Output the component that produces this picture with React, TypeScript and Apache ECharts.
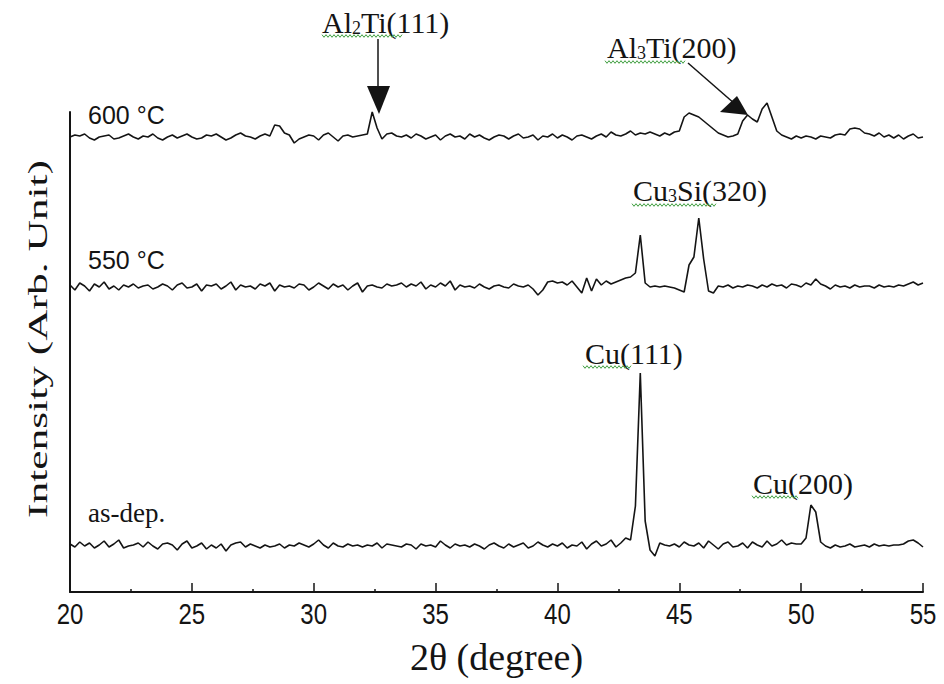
import React, { useEffect, useRef } from "react";
import * as echarts from "echarts";

// 2θ scan grid (degrees)
const twoTheta = [
  20.0, 20.2, 20.4, 20.6, 20.8, 21.0, 21.2, 21.4, 21.6, 21.8,
  22.0, 22.2, 22.4, 22.6, 22.8, 23.0, 23.2, 23.4, 23.6, 23.8,
  24.0, 24.2, 24.4, 24.6, 24.8, 25.0, 25.2, 25.4, 25.6, 25.8,
  26.0, 26.2, 26.4, 26.6, 26.8, 27.0, 27.2, 27.4, 27.6, 27.8,
  28.0, 28.2, 28.4, 28.6, 28.8, 29.0, 29.2, 29.4, 29.6, 29.8,
  30.0, 30.2, 30.4, 30.6, 30.8, 31.0, 31.2, 31.4, 31.6, 31.8,
  32.0, 32.2, 32.4, 32.6, 32.8, 33.0, 33.2, 33.4, 33.6, 33.8,
  34.0, 34.2, 34.4, 34.6, 34.8, 35.0, 35.2, 35.4, 35.6, 35.8,
  36.0, 36.2, 36.4, 36.6, 36.8, 37.0, 37.2, 37.4, 37.6, 37.8,
  38.0, 38.2, 38.4, 38.6, 38.8, 39.0, 39.2, 39.4, 39.6, 39.8,
  40.0, 40.2, 40.4, 40.6, 40.8, 41.0, 41.2, 41.4, 41.6, 41.8,
  42.0, 42.2, 42.4, 42.6, 42.8, 43.0, 43.2, 43.4, 43.6, 43.8,
  44.0, 44.2, 44.4, 44.6, 44.8, 45.0, 45.2, 45.4, 45.6, 45.8,
  46.0, 46.2, 46.4, 46.6, 46.8, 47.0, 47.2, 47.4, 47.6, 47.8,
  48.0, 48.2, 48.4, 48.6, 48.8, 49.0, 49.2, 49.4, 49.6, 49.8,
  50.0, 50.2, 50.4, 50.6, 50.8, 51.0, 51.2, 51.4, 51.6, 51.8,
  52.0, 52.2, 52.4, 52.6, 52.8, 53.0, 53.2, 53.4, 53.6, 53.8,
  54.0, 54.2, 54.4, 54.6, 54.8, 55.0,
];

// Intensity (arb. unit) relative to each trace's own baseline
const int600 = [
  0, 2, 1, 3, -1, -3, 0, 1, 2, -2,
  -1, 1, 3, 0, -2, 1, 0, 3, -1, -3,
  0, 2, -1, 1, 3, 0, -2, -1, 2, 1,
  3, 0, -3, -1, 2, 4, 1, 0, -2, 1,
  3, 1, 12, 11, 4, 2, -6, -2, 0, 2,
  1, -3, 2, 4, 0, -4, 1, 2, 0, 1,
  2, 3, 25, 9, -2, 3, 4, 1, 0, 2,
  -1, 3, 1, -2, 0, 2, -3, 1, 3, 0,
  1, -2, 3, 0, 2, -1, -3, 0, 2, 1,
  -2, 1, 3, -1, 0, 2, -3, 1, 0, 3,
  -1, 2, 0, -3, 1, 2, 0, -2, 1, 3,
  0, 5, 2, 1, 3, 6, 2, 4, 3, 5,
  3, 1, 4, 2, 5, 6, 20, 24, 22, 20,
  16, 12, 8, 4, 2, 0, 1, 3, 16, 22,
  18, 15, 28, 34, 20, 6, 2, 0, -2, 1,
  -1, 1, 0, -2, 1, 0, -1, 2, 3, 2,
  8, 9, 8, 4, 3, 1, 4, 0, 2, -1,
  2, -2, 1, 3, -1, 0,
];

const int550 = [
  2, -3, 4, 1, -4, 3, 0, 5, -2, 1,
  -3, 2, 0, 3, -1, 1, 2, -2, 0, 3,
  1, -3, 2, 4, -1, 0, 3, -4, 2, 1,
  3, -2, 1, 5, -3, 2, 0, 1, -2, 3,
  1, 4, -4, 2, 0, 1, -1, 3, 2, -3,
  0, 4, 1, -2, 3, 0, 2, -3, 1, 4,
  -5, 1, 2, 0, -1, 3, 1, 2, 4, 0,
  3, 1, 5, -2, 2, 0, 4, 1, 6, -3,
  2, 0, 1, -1, 3, 0, -2, 1, 2, 0,
  -1, 3, 1, 0, 2, -2, -8, -3, 5, 6,
  4, 5, 2, 6, 0, -6, 9, -4, 8, 2,
  6, 3, 5, 7, 9, 10, 14, 52, 4, 0,
  1, 0, 1, 0, -1, -3, -5, 22, 30, 69,
  28, -4, -6, 1, 0, 2, -1, 1, 0, 2,
  1, -1, 2, 0, 3, 1, 2, -1, 3, 2,
  0, 4, 2, 8, 3, 1, -2, 2, 0, 1,
  -1, 2, 0, 1, 1, -1, 2, 0, 1, 0,
  2, 1, 3, 5, 2, 4,
];

const intAsDep = [
  2, -1, 4, 0, 3, -2, 1, 5, -1, 2,
  6, -2, 0, 1, 3, -1, 4, 0, -3, 2,
  3, 1, -4, 2, 5, -2, 0, 3, -3, 1,
  -2, 2, -5, 1, 3, 4, -1, 2, 0, -2,
  1, -1, 0, 2, -2, 1, 0, 3, 1, -1,
  2, 6, 1, -2, 3, 0, -1, 2, 0, 1,
  -1, 1, 0, 3, -2, 2, 1, 0, -1, 2,
  1, -3, 2, 0, 1, -1, 5, 1, -2, 2,
  0, 1, -1, 2, 0, -3, 1, 3, 0, -2,
  2, -1, 1, 3, -2, 0, 4, 1, -1, 2,
  0, 3, -2, 1, 0, 4, -3, 2, 5, 0,
  2, 6, -1, 3, 8, 6, 40, 173, 25, -4,
  -10, 3, 1, 0, 2, -1, 4, 1, 0, 3,
  -2, 5, 1, -3, 2, 4, -1, 0, 3, -2,
  4, 1, -1, 5, 0, 2, 6, 1, 3, 2,
  2, 8, 41, 34, 4, 0, -2, 1, -1, 0,
  2, -1, 0, 1, -1, 2, 0, 1, 0, 1,
  1, 2, 5, 6, 3, -1,
];

// vertical stacking offsets of the three traces
const traceNames = ["600 °C", "550 °C", "as-dep."];
const traceOffsets = [455, 305, 46];
const traceValues = [int600, int550, intAsDep];

const xMin = 20;
const xMax = 55;
const xInterval = 5;
const xTickValues = [20, 25, 30, 35, 40, 45, 50, 55];
const xTickLabels = ["20", "25", "30", "35", "40", "45", "50", "55"];

const INK = "#141414";
const SERIF = "'Liberation Serif', 'Times New Roman', serif";
const SANS = "'Liberation Sans', Arial, sans-serif";
const GREEN = "#3f9f3f";

function squiggle(x0: number, x1: number, y: number) {
  const pts: number[][] = [];
  let up = true;
  for (let x = x0; x <= x1; x += 2) {
    pts.push([x, up ? y - 1.3 : y + 1.3]);
    up = !up;
  }
  return {
    type: "polyline",
    shape: { points: pts },
    style: { stroke: GREEN, lineWidth: 1, fill: null },
    z: 10,
  };
}

function label(text: string, x: number, top: number, size: number, family: string) {
  return {
    type: "text",
    x,
    y: top,
    z: 10,
    style: {
      text,
      fontFamily: family,
      fontSize: size,
      lineHeight: size,
      fill: INK,
      align: "left",
      verticalAlign: "top",
      textAlign: "left",
      textVerticalAlign: "top",
    },
  };
}

function subLabel(pre: string, sub: string, post: string, x: number, top: number) {
  return {
    type: "text",
    x,
    y: top,
    z: 10,
    style: {
      text: `{m|${pre}}{s|${sub}}{m|${post}}`,
      fontFamily: SERIF,
      fontSize: 30,
      fill: INK,
      align: "left",
      verticalAlign: "top",
      textAlign: "left",
      textVerticalAlign: "top",
      rich: {
        m: { fontFamily: SERIF, fontSize: 30, lineHeight: 30, verticalAlign: "top", fill: INK },
        s: {
          fontFamily: SERIF,
          fontSize: 18,
          lineHeight: 18,
          verticalAlign: "bottom",
          padding: [16, 0, 0, 0],
          fill: INK,
        },
      },
    },
  };
}

export default function App() {
  const ref = useRef<HTMLDivElement>(null);

  useEffect(() => {
    if (!ref.current) return;
    const chart = echarts.init(ref.current, null, { renderer: "svg" });

    const series = traceValues.map((vals, k) => ({
      name: traceNames[k],
      type: "line",
      data: twoTheta.map((t, i) => [t, vals[i] + traceOffsets[k]]),
      symbol: "none",
      clip: false,
      silent: true,
      lineStyle: { color: INK, width: 1.6 },
    }));

    const option = {
      animation: false,
      backgroundColor: "#ffffff",
      grid: { left: 70, right: 21, top: 112, bottom: 92, containLabel: false },
      xAxis: {
        type: "value",
        min: xMin,
        max: xMax,
        interval: xInterval,
        name: "2θ (degree)",
        nameLocation: "middle",
        nameGap: 46,
        nameTextStyle: { fontFamily: SERIF, fontSize: 38, lineHeight: 38, color: INK },
        axisLine: { show: true, onZero: false, lineStyle: { color: INK, width: 2 } },
        axisTick: { show: true, inside: true, length: 9, lineStyle: { color: INK, width: 1.5 } },
        minorTick: { show: true, splitNumber: 2, length: 3, lineStyle: { color: INK, width: 1.5 } },
        axisLabel: { show: false },
        splitLine: { show: false },
      },
      yAxis: {
        type: "value",
        min: 0,
        max: 480,
        axisLine: { show: true, onZero: false, lineStyle: { color: INK, width: 2 } },
        axisTick: { show: false },
        axisLabel: { show: false },
        splitLine: { show: false },
      },
      series,
    };

    chart.setOption(option as any);

    // narrow tick labels placed through the x axis scale
    const axisY = chart.convertToPixel({ yAxisIndex: 0 }, 0) as number;
    const tickTexts = xTickValues.map((v, i) => ({
      type: "text",
      x: chart.convertToPixel({ xAxisIndex: 0 }, v) as number,
      y: axisY + 6,
      scaleX: 0.8,
      z: 10,
      style: {
        text: xTickLabels[i],
        fontFamily: SANS,
        fontSize: 30,
        lineHeight: 30,
        fill: INK,
        align: "center",
        verticalAlign: "top",
        textAlign: "center",
        textVerticalAlign: "top",
      },
    }));

    const graphic = [
      {
        type: "text",
        x: 37,
        y: 339,
        rotation: Math.PI / 2,
        scaleX: 1.55,
        z: 10,
        style: {
          text: "Intensity (Arb. Unit)",
          fontFamily: SERIF,
          fontSize: 28,
          fill: INK,
          align: "center",
          verticalAlign: "middle",
          textAlign: "center",
          textVerticalAlign: "middle",
        },
      },
      label("600 °C", 88, 102, 25, SANS),
      label("550 °C", 88, 247, 25, SANS),
      label("as-dep.", 88, 499, 27, SERIF),
      subLabel("Al", "2", "Ti(111)", 322, 7),
      subLabel("Al", "3", "Ti(200)", 607, 32),
      subLabel("Cu", "3", "Si(320)", 633, 175),
      label("Cu(111)", 585, 338, 30, SERIF),
      label("Cu(200)", 753, 468, 30, SERIF),
      squiggle(322, 402, 36),
      squiggle(605, 685, 62),
      squiggle(632, 717, 205),
      squiggle(583, 632, 367),
      squiggle(752, 799, 497),
      // Al2Ti arrow
      {
        type: "line",
        shape: { x1: 378, y1: 39, x2: 378, y2: 90 },
        style: { stroke: INK, lineWidth: 1.5 },
        z: 10,
      },
      {
        type: "polygon",
        shape: { points: [[367, 86], [390, 86], [379, 114]] },
        style: { fill: INK },
        z: 10,
      },
      // Al3Ti arrow
      {
        type: "line",
        shape: { x1: 688, y1: 63, x2: 735, y2: 104 },
        style: { stroke: INK, lineWidth: 1.5 },
        z: 10,
      },
      {
        type: "polygon",
        shape: { points: [[720, 112], [737, 96], [748, 115]] },
        style: { fill: INK },
        z: 10,
      },
      ...tickTexts,
    ];

    chart.setOption({ graphic } as any);

    return () => {
      chart.dispose();
    };
  }, []);

  return (
    <div
      ref={ref}
      style={{ position: "fixed", left: 0, top: 0, width: 944, height: 684, background: "#fff" }}
    />
  );
}
